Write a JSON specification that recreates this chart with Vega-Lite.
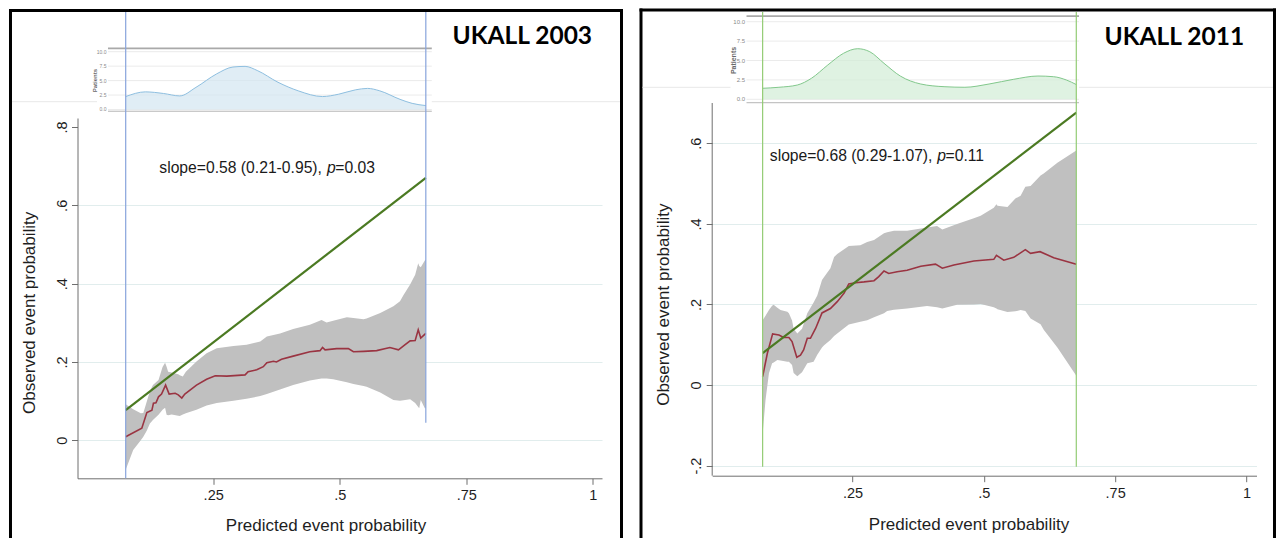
{
  "$schema": "https://vega.github.io/schema/vega-lite/v6.json",
  "background": "white",
  "padding": {"left": 7.5, "top": 7, "right": 0, "bottom": 0},
  "bounds": "flush",
  "spacing": 109.7,
  "config": {
    "view": {"stroke": null},
    "axis": {
      "labelFont": "Liberation Sans", "titleFont": "Liberation Sans",
      "labelFontSize": 14.5, "titleFontSize": 17, "titleFontWeight": "normal",
      "labelColor": "#1e1e1e", "titleColor": "#1e1e1e",
      "domainColor": "#6f6f6f", "tickColor": "#6f6f6f", "tickSize": 6,
      "gridColor": "#e1eded", "labelOverlap": false, "labelFlush": false
    },
    "text": {"font": "Liberation Sans"}
  },
  "datasets": {
    "insetTicks": [
      {"p": 0, "label": "0.0"}, {"p": 2.5, "label": "2.5"}, {"p": 5, "label": "5.0"},
      {"p": 7.5, "label": "7.5"}, {"p": 10, "label": "10.0"}
    ],
    "range2003": [{"x": 0.0772, "end": "low"}, {"x": 0.670, "end": "high"}],
    "range2011": [{"x": 0.079, "end": "low"}, {"x": 0.676, "end": "high"}],
    "calib2003": [
      {"x": 0.0772, "obs": 0.009}, {"x": 0.109, "obs": 0.031}, {"x": 0.119, "obs": 0.071}, {"x": 0.129, "obs": 0.077},
      {"x": 0.132, "obs": 0.095}, {"x": 0.137, "obs": 0.096}, {"x": 0.142, "obs": 0.111}, {"x": 0.148, "obs": 0.118},
      {"x": 0.156, "obs": 0.141}, {"x": 0.163, "obs": 0.118}, {"x": 0.175, "obs": 0.120}, {"x": 0.181, "obs": 0.116},
      {"x": 0.188, "obs": 0.108}, {"x": 0.194, "obs": 0.118}, {"x": 0.217, "obs": 0.141}, {"x": 0.237, "obs": 0.156},
      {"x": 0.254, "obs": 0.165}, {"x": 0.277, "obs": 0.164}, {"x": 0.313, "obs": 0.167}, {"x": 0.319, "obs": 0.175},
      {"x": 0.336, "obs": 0.180}, {"x": 0.349, "obs": 0.188}, {"x": 0.356, "obs": 0.198}, {"x": 0.369, "obs": 0.202},
      {"x": 0.375, "obs": 0.200}, {"x": 0.385, "obs": 0.207}, {"x": 0.408, "obs": 0.215}, {"x": 0.441, "obs": 0.226},
      {"x": 0.461, "obs": 0.229}, {"x": 0.466, "obs": 0.237}, {"x": 0.471, "obs": 0.231}, {"x": 0.494, "obs": 0.234},
      {"x": 0.517, "obs": 0.234}, {"x": 0.527, "obs": 0.226}, {"x": 0.547, "obs": 0.227}, {"x": 0.573, "obs": 0.229},
      {"x": 0.599, "obs": 0.237}, {"x": 0.616, "obs": 0.231}, {"x": 0.626, "obs": 0.241}, {"x": 0.639, "obs": 0.254},
      {"x": 0.649, "obs": 0.255}, {"x": 0.655, "obs": 0.282}, {"x": 0.660, "obs": 0.261}, {"x": 0.670, "obs": 0.273}
    ],
    "band2003": [
      {"x": 0.0772, "lo": -0.075, "hi": 0.092}, {"x": 0.092, "lo": -0.025, "hi": 0.079}, {"x": 0.107, "lo": 0.000, "hi": 0.069},
      {"x": 0.112, "lo": 0.009, "hi": 0.070}, {"x": 0.119, "lo": 0.025, "hi": 0.100}, {"x": 0.125, "lo": 0.043, "hi": 0.125},
      {"x": 0.131, "lo": 0.052, "hi": 0.141}, {"x": 0.142, "lo": 0.065, "hi": 0.154}, {"x": 0.150, "lo": 0.078, "hi": 0.187},
      {"x": 0.155, "lo": 0.083, "hi": 0.198}, {"x": 0.158, "lo": 0.065, "hi": 0.188}, {"x": 0.161, "lo": 0.064, "hi": 0.175},
      {"x": 0.168, "lo": 0.066, "hi": 0.173}, {"x": 0.181, "lo": 0.063, "hi": 0.169}, {"x": 0.184, "lo": 0.062, "hi": 0.166},
      {"x": 0.190, "lo": 0.066, "hi": 0.163}, {"x": 0.196, "lo": 0.069, "hi": 0.175}, {"x": 0.217, "lo": 0.078, "hi": 0.201},
      {"x": 0.237, "lo": 0.089, "hi": 0.222}, {"x": 0.257, "lo": 0.095, "hi": 0.235}, {"x": 0.290, "lo": 0.101, "hi": 0.241},
      {"x": 0.316, "lo": 0.106, "hi": 0.244}, {"x": 0.343, "lo": 0.113, "hi": 0.252}, {"x": 0.356, "lo": 0.118, "hi": 0.265},
      {"x": 0.382, "lo": 0.130, "hi": 0.273}, {"x": 0.408, "lo": 0.141, "hi": 0.284}, {"x": 0.441, "lo": 0.153, "hi": 0.295},
      {"x": 0.464, "lo": 0.158, "hi": 0.307}, {"x": 0.474, "lo": 0.158, "hi": 0.301}, {"x": 0.487, "lo": 0.156, "hi": 0.305},
      {"x": 0.514, "lo": 0.148, "hi": 0.314}, {"x": 0.527, "lo": 0.144, "hi": 0.312}, {"x": 0.547, "lo": 0.139, "hi": 0.309},
      {"x": 0.553, "lo": 0.137, "hi": 0.311}, {"x": 0.580, "lo": 0.122, "hi": 0.325}, {"x": 0.606, "lo": 0.103, "hi": 0.342},
      {"x": 0.619, "lo": 0.101, "hi": 0.355}, {"x": 0.626, "lo": 0.102, "hi": 0.371}, {"x": 0.639, "lo": 0.105, "hi": 0.398},
      {"x": 0.649, "lo": 0.095, "hi": 0.423}, {"x": 0.655, "lo": 0.085, "hi": 0.452}, {"x": 0.657, "lo": 0.082, "hi": 0.445},
      {"x": 0.660, "lo": 0.103, "hi": 0.442}, {"x": 0.668, "lo": 0.082, "hi": 0.459}, {"x": 0.670, "lo": 0.082, "hi": 0.462}
    ],
    "dens2003": [
      {"x": 0.0772, "patients": 2.24}, {"x": 0.116, "patients": 3.05}, {"x": 0.152, "patients": 2.77}, {"x": 0.184, "patients": 2.35},
      {"x": 0.216, "patients": 3.83}, {"x": 0.257, "patients": 6.17}, {"x": 0.289, "patients": 7.35}, {"x": 0.313, "patients": 7.46},
      {"x": 0.337, "patients": 6.75}, {"x": 0.378, "patients": 4.71}, {"x": 0.418, "patients": 3.23}, {"x": 0.466, "patients": 2.24},
      {"x": 0.498, "patients": 2.65}, {"x": 0.531, "patients": 3.40}, {"x": 0.555, "patients": 3.65}, {"x": 0.579, "patients": 3.23},
      {"x": 0.619, "patients": 1.76}, {"x": 0.643, "patients": 1.06}, {"x": 0.670, "patients": 0.68}
    ],
    "calib2011": [
      {"x": 0.079, "obs": 0.021}, {"x": 0.088, "obs": 0.079}, {"x": 0.098, "obs": 0.127}, {"x": 0.110, "obs": 0.124},
      {"x": 0.119, "obs": 0.118}, {"x": 0.129, "obs": 0.118}, {"x": 0.135, "obs": 0.108}, {"x": 0.144, "obs": 0.069},
      {"x": 0.151, "obs": 0.074}, {"x": 0.157, "obs": 0.087}, {"x": 0.164, "obs": 0.116}, {"x": 0.170, "obs": 0.116},
      {"x": 0.180, "obs": 0.141}, {"x": 0.192, "obs": 0.179}, {"x": 0.208, "obs": 0.190}, {"x": 0.221, "obs": 0.207},
      {"x": 0.234, "obs": 0.228}, {"x": 0.243, "obs": 0.251}, {"x": 0.256, "obs": 0.254}, {"x": 0.272, "obs": 0.256},
      {"x": 0.291, "obs": 0.259}, {"x": 0.300, "obs": 0.269}, {"x": 0.310, "obs": 0.283}, {"x": 0.319, "obs": 0.277},
      {"x": 0.335, "obs": 0.281}, {"x": 0.354, "obs": 0.285}, {"x": 0.380, "obs": 0.295}, {"x": 0.408, "obs": 0.300},
      {"x": 0.421, "obs": 0.290}, {"x": 0.443, "obs": 0.298}, {"x": 0.481, "obs": 0.308}, {"x": 0.519, "obs": 0.312},
      {"x": 0.524, "obs": 0.322}, {"x": 0.538, "obs": 0.310}, {"x": 0.557, "obs": 0.317}, {"x": 0.579, "obs": 0.336},
      {"x": 0.589, "obs": 0.327}, {"x": 0.607, "obs": 0.331}, {"x": 0.633, "obs": 0.316}, {"x": 0.676, "obs": 0.300}
    ],
    "band2011": [
      {"x": 0.079, "lo": -0.120, "hi": 0.161}, {"x": 0.0845, "lo": -0.037, "hi": 0.172}, {"x": 0.091, "lo": 0.029, "hi": 0.186},
      {"x": 0.097, "lo": 0.054, "hi": 0.197}, {"x": 0.100, "lo": 0.056, "hi": 0.199}, {"x": 0.107, "lo": 0.062, "hi": 0.192},
      {"x": 0.113, "lo": 0.061, "hi": 0.186}, {"x": 0.126, "lo": 0.058, "hi": 0.182}, {"x": 0.129, "lo": 0.058, "hi": 0.178},
      {"x": 0.135, "lo": 0.050, "hi": 0.160}, {"x": 0.138, "lo": 0.030, "hi": 0.140}, {"x": 0.145, "lo": 0.022, "hi": 0.128},
      {"x": 0.154, "lo": 0.032, "hi": 0.140}, {"x": 0.164, "lo": 0.054, "hi": 0.178}, {"x": 0.176, "lo": 0.058, "hi": 0.205},
      {"x": 0.183, "lo": 0.075, "hi": 0.222}, {"x": 0.192, "lo": 0.093, "hi": 0.261}, {"x": 0.196, "lo": 0.099, "hi": 0.268},
      {"x": 0.208, "lo": 0.112, "hi": 0.290}, {"x": 0.215, "lo": 0.122, "hi": 0.318}, {"x": 0.221, "lo": 0.128, "hi": 0.325},
      {"x": 0.243, "lo": 0.150, "hi": 0.345}, {"x": 0.265, "lo": 0.157, "hi": 0.347}, {"x": 0.278, "lo": 0.161, "hi": 0.355},
      {"x": 0.291, "lo": 0.168, "hi": 0.360}, {"x": 0.310, "lo": 0.178, "hi": 0.377}, {"x": 0.316, "lo": 0.184, "hi": 0.379},
      {"x": 0.329, "lo": 0.187, "hi": 0.383}, {"x": 0.354, "lo": 0.190, "hi": 0.383}, {"x": 0.392, "lo": 0.196, "hi": 0.391},
      {"x": 0.411, "lo": 0.193, "hi": 0.395}, {"x": 0.421, "lo": 0.190, "hi": 0.386}, {"x": 0.449, "lo": 0.199, "hi": 0.400},
      {"x": 0.481, "lo": 0.200, "hi": 0.414}, {"x": 0.494, "lo": 0.201, "hi": 0.420}, {"x": 0.519, "lo": 0.193, "hi": 0.440},
      {"x": 0.524, "lo": 0.190, "hi": 0.449}, {"x": 0.526, "lo": 0.188, "hi": 0.445}, {"x": 0.545, "lo": 0.181, "hi": 0.442},
      {"x": 0.560, "lo": 0.183, "hi": 0.463}, {"x": 0.570, "lo": 0.186, "hi": 0.470}, {"x": 0.579, "lo": 0.184, "hi": 0.492},
      {"x": 0.589, "lo": 0.165, "hi": 0.494}, {"x": 0.608, "lo": 0.151, "hi": 0.520}, {"x": 0.614, "lo": 0.137, "hi": 0.525},
      {"x": 0.640, "lo": 0.093, "hi": 0.552}, {"x": 0.676, "lo": 0.023, "hi": 0.582}
    ],
    "dens2011": [
      {"x": 0.079, "patients": 1.42}, {"x": 0.110, "patients": 1.55}, {"x": 0.145, "patients": 1.84}, {"x": 0.172, "patients": 2.71},
      {"x": 0.203, "patients": 4.42}, {"x": 0.233, "patients": 5.93}, {"x": 0.260, "patients": 6.52}, {"x": 0.283, "patients": 6.13},
      {"x": 0.310, "patients": 4.64}, {"x": 0.341, "patients": 3.00}, {"x": 0.380, "patients": 1.97}, {"x": 0.426, "patients": 1.62},
      {"x": 0.464, "patients": 1.55}, {"x": 0.510, "patients": 1.97}, {"x": 0.557, "patients": 2.58}, {"x": 0.603, "patients": 3.00},
      {"x": 0.633, "patients": 2.91}, {"x": 0.657, "patients": 2.49}, {"x": 0.676, "patients": 1.90}
    ]
  },
  "hconcat": [
    {
      "width": 524.5,
      "height": 360.3,
      "resolve": {"scale": {"y": "independent"}},
      "layer": [
        {
          "layer": [
            {
              "data": {"values": [{}]},
              "mark": {"type": "rule", "color": "#000000", "strokeWidth": 3, "strokeCap": "square"},
              "encoding": {
                "x": {"datum": -0.15034, "type": "quantitative"},
                "y": {"datum": 1.09752, "type": "quantitative"},
                "y2": {"datum": -0.24572}
              }
            },
            {
              "data": {"values": [{}]},
              "mark": {"type": "rule", "color": "#000000", "strokeWidth": 3, "strokeCap": "square"},
              "encoding": {
                "x": {"datum": -0.15034, "type": "quantitative"},
                "x2": {"datum": 1.05652},
                "y": {"datum": 1.09752, "type": "quantitative"}
              }
            },
            {
              "data": {"values": [{}]},
              "mark": {"type": "rule", "color": "#000000", "strokeWidth": 3, "strokeCap": "square"},
              "encoding": {
                "x": {"datum": 1.05652, "type": "quantitative"},
                "y": {"datum": 1.09752, "type": "quantitative"},
                "y2": {"datum": -0.24572}
              }
            },
            {
              "data": {"values": [{}]},
              "mark": {"type": "rule", "color": "#e8e8e8", "strokeWidth": 1},
              "encoding": {
                "x": {"datum": -0.14738, "type": "quantitative"},
                "x2": {"datum": 1.05352},
                "y": {"datum": 0.86462, "type": "quantitative"}
              }
            },
            {
              "data": {"name": "band2003"},
              "mark": {"type": "area", "color": "#c0c0c0", "opacity": 1},
              "encoding": {
                "x": {
                  "field": "x", "type": "quantitative",
                  "scale": {"domain": [-0.018, 1.018], "nice": false, "zero": false},
                  "axis": {
                    "values": [0.25, 0.5, 0.75, 1], "format": ".2~f",
                    "labelExpr": "replace(datum.label, '0.', '.')",
                    "grid": false, "labelPadding": 4,
                    "title": "Predicted event probability",
                    "titleX": 248, "titleY": 51.7, "titleBaseline": "alphabetic", "titleAlign": "center"
                  }
                },
                "y": {
                  "field": "lo", "type": "quantitative",
                  "scale": {"domain": [-0.097, 0.823], "nice": false, "zero": false},
                  "axis": {
                    "values": [0, 0.2, 0.4, 0.6, 0.8], "format": ".1~f",
                    "labelExpr": "replace(datum.label, '0.', '.')",
                    "grid": true,
                    "gridOpacity": {"condition": {"test": "datum.value > 0.7", "value": 0}, "value": 1},
                    "labelAngle": 270, "labelAlign": "center", "labelBaseline": "alphabetic", "labelPadding": 5,
                    "title": "Observed event probability",
                    "titleAngle": 270, "titleX": -42.8, "titleY": 194.3,
                    "titleBaseline": "alphabetic", "titleAlign": "center"
                  }
                },
                "y2": {"field": "hi"}
              }
            },
            {
              "data": {"name": "calib2003"},
              "mark": {"type": "line", "color": "#9a3442", "strokeWidth": 1.6},
              "encoding": {
                "x": {"field": "x", "type": "quantitative"},
                "y": {"field": "obs", "type": "quantitative"}
              }
            },
            {
              "data": {"name": "range2003"},
              "mark": {"type": "line", "color": "#4b7a22", "strokeWidth": 2.2},
              "encoding": {
                "x": {"field": "x", "type": "quantitative"},
                "y": {"field": "x", "type": "quantitative"}
              }
            },
            {
              "data": {"values": [{}]},
              "mark": {"type": "text", "align": "left", "baseline": "alphabetic", "fontSize": 15.7, "color": "#1a1a1a", "text": "slope=0.58 (0.21-0.95),"},
              "encoding": {
                "x": {"datum": 0.14357, "type": "quantitative"},
                "y": {"datum": 0.68331, "type": "quantitative"}
              }
            },
            {
              "data": {"values": [{}]},
              "mark": {"type": "text", "align": "left", "baseline": "alphabetic", "fontSize": 15.7, "fontStyle": "italic", "color": "#1a1a1a", "text": "p"},
              "encoding": {
                "x": {"datum": 0.47482, "type": "quantitative"},
                "y": {"datum": 0.68331, "type": "quantitative"}
              }
            },
            {
              "data": {"values": [{}]},
              "mark": {"type": "text", "align": "left", "baseline": "alphabetic", "fontSize": 15.7, "color": "#1a1a1a", "text": "=0.03"},
              "encoding": {
                "x": {"datum": 0.49122, "type": "quantitative"},
                "y": {"datum": 0.68331, "type": "quantitative"}
              }
            },
            {
              "data": {"values": [{}]},
              "mark": {"type": "text", "align": "center", "baseline": "alphabetic", "font": "Lato", "fontWeight": "bold", "fontSize": 24.5, "color": "#000000", "text": "UKALL 2003"},
              "encoding": {
                "x": {"datum": 0.8606, "type": "quantitative"},
                "y": {"datum": 1.01197, "type": "quantitative"}
              }
            }
          ]
        },
        {
          "layer": [
            {
              "data": {"values": [{}]},
              "mark": {"type": "rect", "color": "#ffffff"},
              "encoding": {
                "x": {"datum": 0.02052, "type": "quantitative"},
                "x2": {"datum": 0.68182},
                "y": {"datum": -0.6, "type": "quantitative", "scale": {"domain": [-63.81, -1.471], "nice": false, "zero": false}, "axis": null},
                "y2": {"datum": 10.9}
              }
            },
            {
              "data": {"name": "insetTicks"},
              "mark": {"type": "rule", "color": "#ebebeb", "strokeWidth": 1},
              "encoding": {
                "x": {"datum": 0.04224, "type": "quantitative"},
                "x2": {"datum": 0.68182},
                "y": {"field": "p", "type": "quantitative", "axis": null}
              }
            },
            {
              "data": {"name": "dens2003"},
              "mark": {"type": "area", "color": "#d3e5f1", "interpolate": "monotone", "line": {"color": "#8ebfe0", "strokeWidth": 1}},
              "encoding": {
                "x": {"field": "x", "type": "quantitative"},
                "y": {"field": "patients", "type": "quantitative", "axis": null},
                "y2": {"datum": 0}
              }
            },
            {
              "data": {"values": [{}]},
              "mark": {"type": "rule", "color": "#a9a9a9", "strokeWidth": 1.8},
              "encoding": {
                "x": {"datum": 0.04224, "type": "quantitative"},
                "x2": {"datum": 0.68182},
                "y": {"datum": 10.58, "type": "quantitative", "axis": null}
              }
            },
            {
              "data": {"values": [{}]},
              "mark": {"type": "rule", "color": "#b5b5b5", "strokeWidth": 1},
              "encoding": {
                "x": {"datum": 0.04224, "type": "quantitative"},
                "x2": {"datum": 0.68182},
                "y": {"datum": -0.3, "type": "quantitative", "axis": null}
              }
            },
            {
              "data": {"name": "insetTicks"},
              "mark": {"type": "text", "align": "right", "baseline": "middle", "dx": -1.5, "fontSize": 5, "color": "#8a8a8a"},
              "encoding": {
                "x": {"datum": 0.04224, "type": "quantitative"},
                "y": {"field": "p", "type": "quantitative", "axis": null},
                "text": {"field": "label"}
              }
            },
            {
              "data": {"values": [{}]},
              "mark": {"type": "text", "align": "center", "baseline": "middle", "angle": 270, "fontSize": 6, "fontWeight": "bold", "color": "#6a6a6a", "text": "Patients"},
              "encoding": {
                "x": {"datum": 0.01716, "type": "quantitative"},
                "y": {"datum": 5, "type": "quantitative", "axis": null}
              }
            }
          ]
        },
        {
          "layer": [
            {
              "data": {"name": "range2003"},
              "transform": [{"filter": "datum.end === 'low'"}],
              "mark": {"type": "rule", "color": "#88a4dc", "strokeWidth": 1.2},
              "encoding": {
                "x": {"field": "x", "type": "quantitative"},
                "y": {"datum": 1.09369, "type": "quantitative", "scale": {"domain": [-0.097, 0.823], "nice": false, "zero": false}, "axis": null},
                "y2": {"datum": -0.097}
              }
            },
            {
              "data": {"name": "range2003"},
              "transform": [{"filter": "datum.end === 'high'"}],
              "mark": {"type": "rule", "color": "#88a4dc", "strokeWidth": 1.2},
              "encoding": {
                "x": {"field": "x", "type": "quantitative"},
                "y": {"datum": 1.09369, "type": "quantitative", "axis": null},
                "y2": {"datum": 0.0449}
              }
            }
          ]
        }
      ]
    },
    {
      "width": 544.3,
      "height": 357.7,
      "resolve": {"scale": {"y": "independent"}},
      "layer": [
        {
          "layer": [
            {
              "data": {"values": [{}]},
              "mark": {"type": "rule", "color": "#000000", "strokeWidth": 3, "strokeCap": "square"},
              "encoding": {
                "x": {"datum": -0.15252, "type": "quantitative"},
                "y": {"datum": 0.93085, "type": "quantitative"},
                "y2": {"datum": -0.3759}
              }
            },
            {
              "data": {"values": [{}]},
              "mark": {"type": "rule", "color": "#000000", "strokeWidth": 3, "strokeCap": "square"},
              "encoding": {
                "x": {"datum": -0.15252, "type": "quantitative"},
                "x2": {"datum": 1.05325},
                "y": {"datum": 0.93085, "type": "quantitative"}
              }
            },
            {
              "data": {"values": [{}]},
              "mark": {"type": "rule", "color": "#000000", "strokeWidth": 3, "strokeCap": "square"},
              "encoding": {
                "x": {"datum": 1.05325, "type": "quantitative"},
                "y": {"datum": 0.93085, "type": "quantitative"},
                "y2": {"datum": -0.3759}
              }
            },
            {
              "data": {"values": [{}]},
              "mark": {"type": "rule", "color": "#e8e8e8", "strokeWidth": 1},
              "encoding": {
                "x": {"datum": -0.14967, "type": "quantitative"},
                "x2": {"datum": 1.0504},
                "y": {"datum": 0.739, "type": "quantitative"}
              }
            },
            {
              "data": {"values": [{}]},
              "mark": {"type": "rule", "color": "#6f6f6f", "strokeWidth": 1},
              "encoding": {
                "x": {"datum": -0.017, "type": "quantitative"},
                "y": {"datum": 0.70, "type": "quantitative"},
                "y2": {"datum": -0.225}
              }
            },
            {
              "data": {"name": "band2011"},
              "mark": {"type": "area", "color": "#c0c0c0", "opacity": 1},
              "encoding": {
                "x": {
                  "field": "x", "type": "quantitative",
                  "scale": {"domain": [-0.017, 1.019], "nice": false, "zero": false},
                  "axis": {
                    "values": [0.25, 0.5, 0.75, 1], "format": ".2~f",
                    "labelExpr": "replace(datum.label, '0.', '.')",
                    "grid": false, "labelPadding": 5,
                    "title": "Predicted event probability",
                    "titleX": 256.3, "titleY": 53.6, "titleBaseline": "alphabetic", "titleAlign": "center"
                  }
                },
                "y": {
                  "field": "lo", "type": "quantitative",
                  "scale": {"domain": [-0.225, 0.6628], "nice": false, "zero": false},
                  "axis": {
                    "values": [-0.2, 0, 0.2, 0.4, 0.6], "format": ".1~f",
                    "labelExpr": "replace(replace(datum.label, '0.', '.'), '\u2212', '-')",
                    "grid": true, "domain": false,
                    "labelAngle": 270, "labelAlign": "center", "labelBaseline": "alphabetic", "labelPadding": 6,
                    "title": "Observed event probability",
                    "titleAngle": 270, "titleX": -43.6, "titleY": 186.2,
                    "titleBaseline": "alphabetic", "titleAlign": "center"
                  }
                },
                "y2": {"field": "hi"}
              }
            },
            {
              "data": {"name": "calib2011"},
              "mark": {"type": "line", "color": "#9a3442", "strokeWidth": 1.6},
              "encoding": {
                "x": {"field": "x", "type": "quantitative"},
                "y": {"field": "obs", "type": "quantitative"}
              }
            },
            {
              "data": {"name": "range2011"},
              "mark": {"type": "line", "color": "#4b7a22", "strokeWidth": 2.2},
              "encoding": {
                "x": {"field": "x", "type": "quantitative"},
                "y": {"field": "x", "type": "quantitative"}
              }
            },
            {
              "data": {"values": [{}]},
              "mark": {"type": "text", "align": "left", "baseline": "alphabetic", "fontSize": 15.7, "color": "#1a1a1a", "text": "slope=0.68 (0.29-1.07),"},
              "encoding": {
                "x": {"datum": 0.09263, "type": "quantitative"},
                "y": {"datum": 0.55682, "type": "quantitative"}
              }
            },
            {
              "data": {"values": [{}]},
              "mark": {"type": "text", "align": "left", "baseline": "alphabetic", "fontSize": 15.7, "fontStyle": "italic", "color": "#1a1a1a", "text": "p"},
              "encoding": {
                "x": {"datum": 0.41125, "type": "quantitative"},
                "y": {"datum": 0.55682, "type": "quantitative"}
              }
            },
            {
              "data": {"values": [{}]},
              "mark": {"type": "text", "align": "left", "baseline": "alphabetic", "fontSize": 15.7, "color": "#1a1a1a", "text": "=0.11"},
              "encoding": {
                "x": {"datum": 0.42705, "type": "quantitative"},
                "y": {"datum": 0.55682, "type": "quantitative"}
              }
            },
            {
              "data": {"values": [{}]},
              "mark": {"type": "text", "align": "center", "baseline": "alphabetic", "font": "Lato", "fontWeight": "bold", "fontSize": 24.5, "color": "#000000", "text": "UKALL 2011"},
              "encoding": {
                "x": {"datum": 0.8626, "type": "quantitative"},
                "y": {"datum": 0.84398, "type": "quantitative"}
              }
            }
          ]
        },
        {
          "layer": [
            {
              "data": {"values": [{}]},
              "mark": {"type": "rect", "color": "#ffffff"},
              "encoding": {
                "x": {"datum": 0.01783, "type": "quantitative"},
                "x2": {"datum": 0.68114},
                "y": {"datum": -0.6, "type": "quantitative", "scale": {"domain": [-48.51, -2.41], "nice": false, "zero": false}, "axis": null},
                "y2": {"datum": 11.1}
              }
            },
            {
              "data": {"name": "insetTicks"},
              "mark": {"type": "rule", "color": "#ebebeb", "strokeWidth": 1},
              "encoding": {
                "x": {"datum": 0.04829, "type": "quantitative"},
                "x2": {"datum": 0.68114},
                "y": {"field": "p", "type": "quantitative", "axis": null}
              }
            },
            {
              "data": {"name": "dens2011"},
              "mark": {"type": "area", "color": "#d2ecd6", "interpolate": "monotone", "line": {"color": "#82c88c", "strokeWidth": 1}},
              "encoding": {
                "x": {"field": "x", "type": "quantitative"},
                "y": {"field": "patients", "type": "quantitative", "axis": null},
                "y2": {"datum": 0}
              }
            },
            {
              "data": {"values": [{}]},
              "mark": {"type": "rule", "color": "#a9a9a9", "strokeWidth": 1.8},
              "encoding": {
                "x": {"datum": 0.04829, "type": "quantitative"},
                "x2": {"datum": 0.68114},
                "y": {"datum": 10.73, "type": "quantitative", "axis": null}
              }
            },
            {
              "data": {"values": [{}]},
              "mark": {"type": "rule", "color": "#b5b5b5", "strokeWidth": 1},
              "encoding": {
                "x": {"datum": 0.04829, "type": "quantitative"},
                "x2": {"datum": 0.68114},
                "y": {"datum": -0.44, "type": "quantitative", "axis": null}
              }
            },
            {
              "data": {"name": "insetTicks"},
              "mark": {"type": "text", "align": "right", "baseline": "middle", "dx": -1.5, "fontSize": 6, "color": "#8a8a8a"},
              "encoding": {
                "x": {"datum": 0.04829, "type": "quantitative"},
                "y": {"field": "p", "type": "quantitative", "axis": null},
                "text": {"field": "label"}
              }
            },
            {
              "data": {"values": [{}]},
              "mark": {"type": "text", "align": "center", "baseline": "middle", "angle": 270, "fontSize": 7, "fontWeight": "bold", "color": "#6a6a6a", "text": "Patients"},
              "encoding": {
                "x": {"datum": 0.02544, "type": "quantitative"},
                "y": {"datum": 5, "type": "quantitative", "axis": null}
              }
            }
          ]
        },
        {
          "layer": [
            {
              "data": {"name": "range2011"},
              "mark": {"type": "rule", "color": "#93cc74", "strokeWidth": 1.2},
              "encoding": {
                "x": {"field": "x", "type": "quantitative"},
                "y": {"datum": 0.92589, "type": "quantitative", "scale": {"domain": [-0.225, 0.6628], "nice": false, "zero": false}, "axis": null},
                "y2": {"datum": -0.20265}
              }
            }
          ]
        }
      ]
    }
  ]
}
